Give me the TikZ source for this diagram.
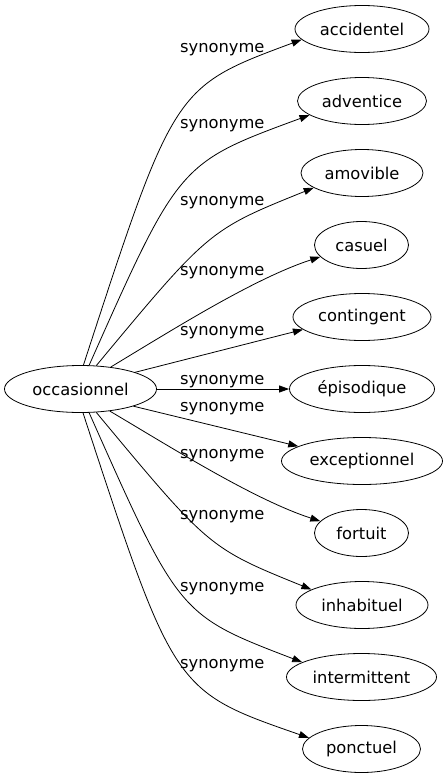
\documentclass[tikz,border=0pt]{standalone}
\usepackage{fontspec}
\setmainfont{DejaVu Sans}
\usetikzlibrary{arrows.meta,shapes.geometric}
\begin{document}
\begin{tikzpicture}[x=1pt,y=1pt,
  term/.style={draw, ellipse, inner sep=0pt, minimum height=47pt, line width=0.8pt, font=\fontsize{16.3}{19}\selectfont},
  lbl/.style={anchor=base, inner sep=0pt, font=\fontsize{16.3}{19}\selectfont},
  syn/.style={draw, line width=0.8pt, -{Triangle[length=10pt,width=7pt]}}]
\useasboundingbox (0,0) rectangle (447,-779);
\node[term, minimum width=152pt] (occ) at (80.5,-389) {occasionnel};
\node[term, minimum width=134pt] (n1) at (362,-29) {accidentel};
\node[term, minimum width=129pt] (n2) at (362,-101) {adventice};
\node[term, minimum width=122pt] (n3) at (362,-173) {amovible};
\node[term, minimum width=94pt] (n4) at (361.5,-245) {casuel};
\node[term, minimum width=138pt] (n5) at (362,-317) {contingent};
\node[term, minimum width=145pt] (n6) at (362,-389) {épisodique};
\node[term, minimum width=161pt] (n7) at (362,-461) {exceptionnel};
\node[term, minimum width=94pt] (n8) at (361.5,-533) {fortuit};
\node[term, minimum width=132pt] (n9) at (362,-605) {inhabituel};
\node[term, minimum width=150pt] (n10) at (361.5,-677) {intermittent};
\node[term, minimum width=118pt] (n11) at (361.5,-749) {ponctuel};

\draw[syn] (occ.83.9) .. controls (174,-87) .. (n1.190.6);
\draw[syn] (occ.70) .. controls (179,-163) .. (n2.195.3);
\draw[syn] (occ.56) .. controls (209,-230) .. (n3.197.4);
\draw[syn] (occ.36.3) .. controls (170.6,-331) and (253.4,-278.6) .. (n4.196);
\draw[syn] (occ.17.9) -- (n5.192.4);
\draw[syn] (occ.east) -- (n6.west);
\draw[syn] (occ.342.1) -- (n7.167.8);
\draw[syn] (occ.323.7) .. controls (170.6,-447) and (253.4,-499.4) .. (n8.164);
\draw[syn] (occ.304) .. controls (209,-548) .. (n9.163.9);
\draw[syn] (occ.290) .. controls (179,-615) .. (n10.166.4);
\draw[syn] (occ.276.1) .. controls (174,-691) .. (n11.168.7);

\node[lbl] (l1) at (222.3,-52) {synonyme};
\node[lbl] (l2) at (222.3,-128.5) {synonyme};
\node[lbl] (l3) at (222.3,-205) {synonyme};
\node[lbl] (l4) at (222.3,-275) {synonyme};
\node[lbl] (l5) at (222.3,-335) {synonyme};
\node[lbl] (l6) at (222.3,-384) {synonyme};
\node[lbl] (l7) at (222.3,-411) {synonyme};
\node[lbl] (l8) at (222.3,-458) {synonyme};
\node[lbl] (l9) at (222.3,-519) {synonyme};
\node[lbl] (l10) at (222.3,-591) {synonyme};
\node[lbl] (l11) at (222.3,-668) {synonyme};
\end{tikzpicture}
\end{document}
